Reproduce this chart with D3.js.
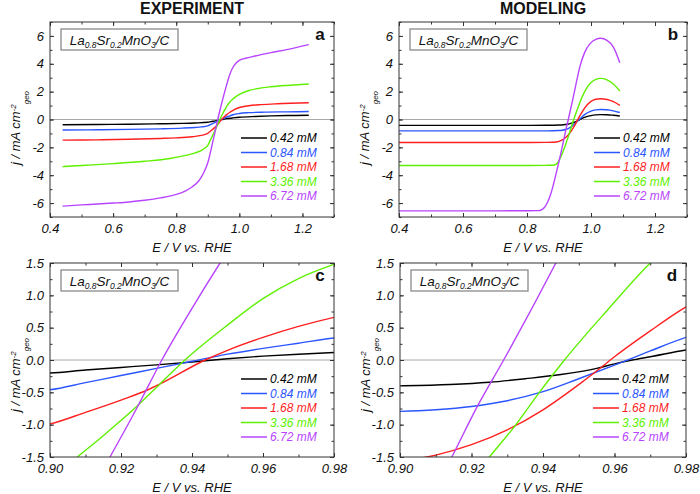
<!DOCTYPE html>
<html><head><meta charset="utf-8">
<script src="https://cdn.jsdelivr.net/npm/d3@7/dist/d3.min.js"></script>
<style>
html,body{margin:0;padding:0;background:#fff;}
svg{display:block;font-family:"Liberation Sans",Arial,sans-serif;}
</style></head>
<body><svg id="chart" width="700" height="494"></svg>
<script>
// ---------- data ----------
const seriesLabels = ['0.42 mM','0.84 mM','1.68 mM','3.36 mM','6.72 mM'];
const seriesColors = ['#000000','#2b55ff','#ff1f1f','#5ef000','#b944ff'];

// EXPERIMENT  [E (V vs RHE), j (mA cm^-2)]
const exp042 = [[0.44,-0.38],[0.55,-0.36],[0.65,-0.34],[0.75,-0.31],[0.82,-0.28],[0.86,-0.25],[0.90,-0.20],[0.91,-0.155],[0.92,-0.115],[0.93,-0.075],[0.94,-0.03],[0.95,0.02],[0.96,0.06],[0.97,0.09],[0.98,0.115],[1.0,0.16],[1.05,0.22],[1.1,0.26],[1.16,0.285],[1.22,0.3]];
const exp084 = [[0.44,-0.75],[0.55,-0.74],[0.65,-0.71],[0.75,-0.67],[0.82,-0.62],[0.86,-0.57],[0.88,-0.53],[0.90,-0.46],[0.91,-0.35],[0.92,-0.24],[0.93,-0.13],[0.94,-0.02],[0.95,0.09],[0.96,0.18],[0.97,0.26],[0.98,0.34],[1.0,0.43],[1.03,0.49],[1.08,0.53],[1.15,0.55],[1.22,0.57]];
const exp168 = [[0.44,-1.48],[0.55,-1.46],[0.65,-1.42],[0.75,-1.36],[0.80,-1.32],[0.85,-1.24],[0.88,-1.14],[0.89,-1.08],[0.90,-0.99],[0.91,-0.81],[0.92,-0.62],[0.9276,-0.46],[0.931,-0.37],[0.9437,0],[0.95,0.15],[0.96,0.35],[0.97,0.52],[0.98,0.66],[1.0,0.86],[1.03,0.99],[1.07,1.07],[1.12,1.13],[1.22,1.2]];
const exp336 = [[0.44,-3.38],[0.5,-3.3],[0.6,-3.17],[0.7,-3.0],[0.78,-2.8],[0.83,-2.58],[0.86,-2.4],[0.88,-2.22],[0.89,-2.07],[0.90,-1.85],[0.9077,-1.5],[0.915,-1.17],[0.9244,-0.72],[0.931,-0.37],[0.938,0],[0.95,0.54],[0.96,0.95],[0.97,1.26],[0.98,1.48],[1.0,1.8],[1.03,2.08],[1.06,2.23],[1.1,2.35],[1.16,2.46],[1.22,2.55]];
const exp672 = [[0.44,-6.22],[0.5,-6.13],[0.55,-6.07],[0.6,-6.0],[0.65,-5.92],[0.7,-5.8],[0.75,-5.63],[0.8,-5.38],[0.83,-5.12],[0.85,-4.85],[0.87,-4.45],[0.88,-4.12],[0.89,-3.68],[0.90,-3.1],[0.9169,-1.5],[0.9244,-0.75],[0.9315,0],[0.94,0.8],[0.9479,1.5],[0.96,2.5],[0.97,3.25],[0.98,3.75],[0.99,4.05],[1.0,4.24],[1.02,4.4],[1.05,4.56],[1.1,4.8],[1.15,5.02],[1.22,5.38]];

// MODELING
const mod042 = [[0.4,-0.42],[0.6,-0.42],[0.8,-0.42],[0.86,-0.415],[0.88,-0.41],[0.90,-0.40],[0.914,-0.38],[0.925,-0.345],[0.935,-0.29],[0.945,-0.225],[0.955,-0.13],[0.96,-0.06],[0.965,0],[0.97,0.05],[0.98,0.155],[1.0,0.28],[1.015,0.33],[1.03,0.35],[1.05,0.34],[1.07,0.3],[1.09,0.25]];
const mod084 = [[0.4,-0.82],[0.6,-0.82],[0.8,-0.82],[0.86,-0.815],[0.88,-0.81],[0.90,-0.795],[0.91,-0.77],[0.92,-0.72],[0.93,-0.63],[0.94,-0.49],[0.95,-0.29],[0.96,-0.08],[0.97,0.14],[0.98,0.35],[1.0,0.6],[1.015,0.69],[1.03,0.72],[1.05,0.7],[1.07,0.62],[1.09,0.5]];
const mod168 = [[0.4,-1.65],[0.6,-1.65],[0.8,-1.65],[0.86,-1.645],[0.88,-1.635],[0.89,-1.615],[0.90,-1.565],[0.91,-1.47],[0.92,-1.31],[0.93,-1.08],[0.94,-0.77],[0.95,-0.38],[0.955,-0.17],[0.96,0.05],[0.97,0.45],[0.98,0.82],[1.0,1.3],[1.015,1.45],[1.03,1.49],[1.05,1.44],[1.07,1.28],[1.09,1.02]];
const mod336 = [[0.4,-3.3],[0.6,-3.3],[0.8,-3.3],[0.86,-3.29],[0.88,-3.28],[0.89,-3.22],[0.895,-3.12],[0.90,-2.95],[0.91,-2.45],[0.918,-1.98],[0.925,-1.5],[0.932,-1.03],[0.939,-0.5],[0.946,0],[0.958,0.77],[0.97,1.5],[0.985,2.2],[1.0,2.65],[1.015,2.88],[1.03,2.95],[1.05,2.85],[1.07,2.55],[1.09,2.05]];
const mod672 = [[0.4,-6.56],[0.6,-6.56],[0.8,-6.55],[0.835,-6.54],[0.845,-6.48],[0.855,-6.3],[0.865,-5.9],[0.875,-5.3],[0.885,-4.45],[0.895,-3.5],[0.905,-2.5],[0.9145,-1.5],[0.9217,-0.71],[0.929,0],[0.9436,1.5],[0.955,2.75],[0.966,3.85],[0.98,4.8],[0.997,5.45],[1.015,5.75],[1.03,5.83],[1.05,5.68],[1.07,5.2],[1.09,4.08]];

const expSeries = [exp042, exp084, exp168, exp336, exp672];
const modSeries = [mod042, mod084, mod168, mod336, mod672];

const fullXTicks = [0.4,0.6,0.8,1.0,1.2];
const fullXMinor = [0.4,0.5,0.6,0.7,0.8,0.9,1.0,1.1,1.2,1.3];
const fullYTicks = [-6,-4,-2,0,2,4,6];
const fullYMinor = [-7,-6,-5,-4,-3,-2,-1,0,1,2,3,4,5,6,7];
const zoomXTicks = [0.90,0.92,0.94,0.96,0.98];
const zoomXMinor = [0.90,0.91,0.92,0.93,0.94,0.95,0.96,0.97,0.98];
const zoomYTicks = [-1.5,-1.0,-0.5,0.0,0.5,1.0,1.5];
const zoomYMinor = [-1.5,-1.25,-1.0,-0.75,-0.5,-0.25,0,0.25,0.5,0.75,1.0,1.25,1.5];

const columnTitles = ['EXPERIMENT','MODELING'];

// ---------- layout ----------
const svg = d3.select('#chart');
svg.append('rect').attr('width',700).attr('height',494).attr('fill','#fff');

const panels = [
  {letter:'a', data:expSeries, l:50,  r:334, t:22,  b:217, xd:[0.4,1.3], yd:[-7,7], xt:fullXTicks, xm:fullXMinor, yt:fullYTicks, ym:fullYMinor, xf:1, yf:0, ylc:128},
  {letter:'b', data:modSeries, l:399, r:687, t:22,  b:217, xd:[0.4,1.3], yd:[-7,7], xt:fullXTicks, xm:fullXMinor, yt:fullYTicks, ym:fullYMinor, xf:1, yf:0, ylc:128},
  {letter:'c', data:expSeries, l:50,  r:334, t:263, b:457, xd:[0.90,0.98], yd:[-1.5,1.5], xt:zoomXTicks, xm:zoomXMinor, yt:zoomYTicks, ym:zoomYMinor, xf:2, yf:1, ylc:375},
  {letter:'d', data:modSeries, l:400, r:686, t:263, b:457, xd:[0.90,0.98], yd:[-1.5,1.5], xt:zoomXTicks, xm:zoomXMinor, yt:zoomYTicks, ym:zoomYMinor, xf:2, yf:1, ylc:375}
];

const fmt = (v,n) => { const s = Math.abs(v) < 1e-9 ? (0).toFixed(n) : v.toFixed(n); return s; };

panels.forEach((p,i) => {
  const g = svg.append('g');
  const x = d3.scaleLinear().domain(p.xd).range([p.l,p.r]);
  const y = d3.scaleLinear().domain(p.yd).range([p.b,p.t]);
  const cid = 'clip'+p.letter;
  svg.append('defs').append('clipPath').attr('id',cid)
    .append('rect').attr('x',p.l).attr('y',p.t).attr('width',p.r-p.l).attr('height',p.b-p.t);

  // zero line
  g.append('line').attr('x1',p.l).attr('x2',p.r).attr('y1',y(0)).attr('y2',y(0))
    .attr('stroke','#a8a8a8').attr('stroke-width',1);

  // curves
  const line = d3.line().x(d=>x(d[0])).y(d=>y(d[1])).curve(d3.curveMonotoneX);
  const cg = g.append('g').attr('clip-path','url(#'+cid+')');
  p.data.forEach((s,k) => {
    cg.append('path').attr('d',line(s)).attr('fill','none')
      .attr('stroke',seriesColors[k]).attr('stroke-width',1.4);
  });

  // axes
  const tickCol = '#333';
  const ax = (axis, tr) => {
    const a = g.append('g').attr('transform',tr).call(axis);
    a.select('.domain').remove();
    a.selectAll('line').attr('stroke',tickCol);
    return a;
  };
  ax(d3.axisBottom(x).tickValues(p.xm).tickSize(-2.5).tickFormat(''), `translate(0,${p.b})`);
  ax(d3.axisTop(x).tickValues(p.xm).tickSize(-2.5).tickFormat(''), `translate(0,${p.t})`);
  ax(d3.axisLeft(y).tickValues(p.ym).tickSize(-2.5).tickFormat(''), `translate(${p.l},0)`);
  ax(d3.axisRight(y).tickValues(p.ym).tickSize(-2.5).tickFormat(''), `translate(${p.r},0)`);
  const bx = ax(d3.axisBottom(x).tickValues(p.xt).tickSize(-4).tickFormat(v=>fmt(v,p.xf)), `translate(0,${p.b})`);
  bx.selectAll('text').attr('y',15.5).attr('dy',0).attr('fill','#111')
    .style('font-size','13px').style('font-style','italic').style('font-family','"Liberation Sans",Arial,sans-serif');
  ax(d3.axisTop(x).tickValues(p.xt).tickSize(-4).tickFormat(''), `translate(0,${p.t})`);
  const ly = ax(d3.axisLeft(y).tickValues(p.yt).tickSize(-4).tickPadding(6).tickFormat(v=>fmt(v,p.yf)), `translate(${p.l},0)`);
  ly.selectAll('text').attr('fill','#111')
    .style('font-size','13px').style('font-style','italic').style('font-family','"Liberation Sans",Arial,sans-serif');
  ax(d3.axisRight(y).tickValues(p.yt).tickSize(-4).tickFormat(''), `translate(${p.r},0)`);

  // frame
  g.append('rect').attr('x',p.l).attr('y',p.t).attr('width',p.r-p.l).attr('height',p.b-p.t)
    .attr('fill','none').attr('stroke','#333').attr('stroke-width',1);

  // inset box with formula
  const bxl = p.l + 11, bxt = p.t + 7, bw = 117, bh = 21;
  g.append('rect').attr('x',bxl).attr('y',bxt).attr('width',bw).attr('height',bh)
    .attr('fill','#fff').attr('stroke','#8a8a8a').attr('stroke-width',1.3);
  const ft = g.append('text').attr('x',bxl+bw/2).attr('y',bxt+15.5).attr('text-anchor','middle')
    .style('font-size','13.5px').style('font-style','italic').attr('fill','#111');
  const parts = [['La',0],['0.8',1],['Sr',0],['0.2',1],['MnO',0],['3',1],['/C',0]];
  let prevSub = 0;
  parts.forEach(([t,sub]) => {
    const ts = ft.append('tspan').text(t);
    if (sub && !prevSub) ts.attr('dy',3.5).style('font-size','8.5px');
    else if (!sub && prevSub) ts.attr('dy',-3.5);
    prevSub = sub;
  });

  // panel letter
  g.append('text').attr('x',p.r-14).attr('y',p.t+18).attr('text-anchor','middle')
    .style('font-size','17px').style('font-weight','bold').attr('fill','#111').text(p.letter);

  // legend
  seriesLabels.forEach((lab,k) => {
    const yy = p.t + 116 + k*14.5;
    g.append('line').attr('x1',p.r-93).attr('x2',p.r-67).attr('y1',yy).attr('y2',yy)
      .attr('stroke',seriesColors[k]).attr('stroke-width',1.5);
    g.append('text').attr('x',p.r-64).attr('y',yy+4.3).attr('fill',seriesColors[k])
      .style('font-size','12px').style('font-style','italic').text(lab);
  });

  // axis titles
  g.append('text').attr('x',(p.l+p.r)/2).attr('y',p.b+34.5).attr('text-anchor','middle')
    .style('font-size','13px').style('font-style','italic').attr('fill','#111').text('E / V vs. RHE');
  const yl = g.append('text').attr('transform',`translate(${p.l-30},${p.ylc}) rotate(-90)`)
    .attr('text-anchor','middle').style('font-size','13px').style('font-style','italic').attr('fill','#111');
  yl.append('tspan').text('j / mA cm');
  yl.append('tspan').attr('dy',-4.5).style('font-size','8px').text('-2');
  yl.append('tspan').attr('dy',13).style('font-size','8px').text('geo');

  if (i < 2) {
    g.append('text').attr('x',(p.l+p.r)/2).attr('y',13.5).attr('text-anchor','middle')
      .style('font-size','16px').style('font-weight','bold').attr('fill','#111').text(columnTitles[i]);
  }
});
</script></body></html>
